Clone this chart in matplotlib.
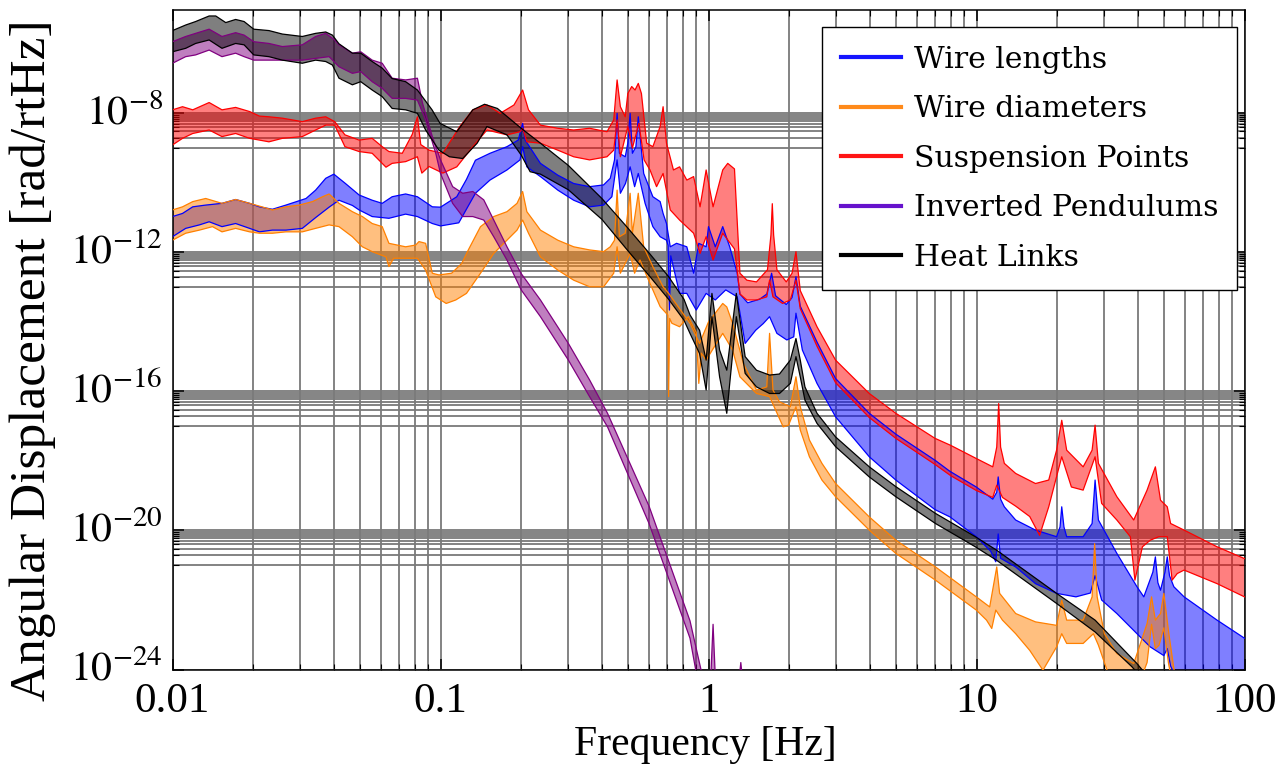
import numpy as np
import matplotlib
matplotlib.use('Agg')
import matplotlib.pyplot as plt
from matplotlib.ticker import FixedLocator, NullFormatter, FixedFormatter
from matplotlib.lines import Line2D
from matplotlib.transforms import ScaledTranslation

plt.rcParams['font.family'] = ['Liberation Serif', 'DejaVu Serif']
plt.rcParams['mathtext.fontset'] = 'stix'

# ---------------- data (frequency in Hz, amplitude as log10 of rad/rtHz) ----------------
# Wire lengths (blue)
wl_up_f = [0.01, 0.0109, 0.0119, 0.0133, 0.0153, 0.0172, 0.0194, 0.0211, 0.0236, 0.0265, 0.0315, 0.0342,
           0.0373, 0.040, 0.0442, 0.0497, 0.0556, 0.0606, 0.066, 0.0741, 0.082, 0.0932, 0.1, 0.115, 0.125,
           0.135, 0.153, 0.177, 0.195, 0.2025, 0.207, 0.236, 0.274, 0.314, 0.36, 0.406, 0.43, 0.446, 0.456,
           0.465, 0.489, 0.50, 0.51, 0.52, 0.536, 0.547, 0.573, 0.62, 0.66, 0.677, 0.697, 0.72, 0.76, 0.83,
           0.88, 0.92, 0.98, 1.0, 1.06, 1.13, 1.2, 1.28, 1.31, 1.40, 1.55, 1.65, 1.72, 1.78, 1.95, 2.05,
           2.12, 2.2, 2.54, 2.98, 3.98, 5.0, 7.0, 7.96, 9.98, 11.5, 11.9, 12.05, 12.3, 12.7, 14.0, 16.6,
           19.9, 20.5, 20.8, 21.2, 21.7, 25.0, 27.0, 27.7, 28.5, 33.4, 39.7, 42.1, 45.5, 46.5, 47.5, 48.6,
           50.5, 51.5, 52.5, 54.5, 59.5, 79.0, 100.0]
wl_up = [-10.97, -10.88, -10.69, -10.64, -10.59, -10.48, -10.59, -10.69, -10.76, -10.64, -10.45, -10.21,
         -9.87, -9.75, -10.02, -10.35, -10.50, -10.59, -10.40, -10.32, -10.40, -10.69, -10.70, -10.40, -9.90,
         -9.35, -9.15, -8.96, -8.77, -8.29, -8.77, -9.44, -9.78, -10.02, -10.11, -10.06, -9.87, -9.34, -8.0,
         -9.15, -9.25, -8.86, -8.0, -9.15, -8.96, -8.10, -9.73, -10.40, -10.54, -10.88, -11.17, -11.84, -11.74, -11.84,
         -12.6, -11.74, -11.84, -11.26, -11.84, -11.26, -11.84, -12.6, -13.2, -13.45, -13.35, -13.2, -12.6, -13.25, -13.5, -13.3,
         -12.7, -13.55, -14.58, -15.63, -16.63, -17.23, -17.98, -18.3, -18.75, -19.1, -18.9, -18.46, -19.1, -19.32, -19.7, -19.99,
         -20.18, -19.9, -19.32, -19.9, -20.18, -20.18, -19.8, -18.55, -19.7, -20.66, -21.62, -21.91, -21.2, -20.76, -21.5, -21.72,
         -21.2, -20.76, -21.3, -21.62, -21.91, -22.58, -23.1]
wl_lo_f = [0.01, 0.0112, 0.0126, 0.0137, 0.0153, 0.0172, 0.0194, 0.0211, 0.0236, 0.0265, 0.0305, 0.0342,
           0.0384, 0.0418, 0.0469, 0.0497, 0.0556, 0.0642, 0.0741, 0.082, 0.0932, 0.1, 0.117, 0.135, 0.153,
           0.177, 0.198, 0.2025, 0.21, 0.236, 0.274, 0.314, 0.36, 0.406, 0.436, 0.456, 0.469, 0.49, 0.51,
           0.53, 0.547, 0.58, 0.62, 0.66, 0.697, 0.707, 0.715, 0.723, 0.78, 0.83, 0.9, 0.98, 1.06, 1.16,
           1.28, 1.37, 1.5, 1.6, 1.69, 1.8, 1.96, 2.08, 2.12, 2.24, 2.54, 2.98, 3.98, 5.0, 7.0, 7.96, 9.98,
           11.3, 11.8, 12.05, 12.3, 14.0, 16.6, 19.9, 23.5, 26.6, 27.7, 29.3, 33.4, 39.7, 44.5, 50.0, 51.5,
           53.0, 56.0, 70.0, 100.0]
wl_lo = [-11.55, -11.31, -11.21, -11.12, -11.26, -11.17, -11.31, -11.41, -11.36, -11.36, -11.31, -11.0,
         -10.7, -10.5, -10.65, -10.78, -10.97, -11.02, -10.90, -10.97, -11.17, -11.24, -11.15, -10.3, -9.92,
         -9.63, -9.34, -8.96, -9.54, -9.82, -10.21, -10.5, -10.69, -10.64, -10.4, -9.34, -10.3, -10.02, -9.54,
         -10.11, -9.73, -10.59, -11.26, -11.55, -11.65, -11.8, -13.66, -12.1, -13.18, -13.18, -13.66, -13.18, -13.37, -13.08,
         -13.28, -14.62, -14.24, -14.05, -13.85, -14.33, -14.52, -14.43, -13.75, -14.81, -15.77, -16.73, -17.88, -18.55, -19.4, -19.61, -20.18,
         -20.6, -20.9, -20.1, -20.8, -21.05, -21.53, -21.81, -21.91, -21.8, -21.3, -22.0, -22.39, -22.97, -23.35, -23.6, -23.4,
         -23.9, -24.3, -24.8, -25.5]

# Wire diameters (orange)
wd_up_f = [0.01, 0.0109, 0.0119, 0.0133, 0.0153, 0.0172, 0.0194, 0.0211, 0.0236, 0.0265, 0.0297, 0.0333,
           0.0363, 0.0384, 0.0418, 0.0469, 0.0511, 0.0556, 0.0606, 0.0642, 0.0741, 0.0808, 0.0831, 0.088,
           0.0932, 0.0987, 0.11, 0.12, 0.127, 0.141, 0.158, 0.177, 0.193, 0.2025, 0.21, 0.236, 0.274, 0.314,
           0.36, 0.406, 0.43, 0.446, 0.456, 0.465, 0.489, 0.51, 0.52, 0.547, 0.573, 0.62, 0.677, 0.71, 0.853,
           0.926, 1.0, 1.13, 1.17, 1.23, 1.35, 1.51, 1.65, 1.69, 1.74, 1.84, 2.02, 2.12, 2.2, 2.38, 2.65,
           2.98, 3.98, 5.0, 7.03, 9.98, 11.2, 11.9, 12.2, 14.0, 16.6, 19.9, 20.8, 21.7, 25.0, 27.0, 27.6,
           28.2, 30.0, 33.4, 38.6, 43.3, 45.0, 46.5, 48.6, 50.0, 52.2, 56.0]
wd_up = [-10.78, -10.69, -10.54, -10.45, -10.59, -10.48, -10.59, -10.67, -10.78, -10.69, -10.64, -10.54,
         -10.40, -10.32, -10.59, -10.83, -10.97, -11.17, -11.26, -11.74, -11.84, -11.79, -11.69, -11.74,
         -12.60, -12.65, -12.6, -12.32, -11.93, -11.26, -10.97, -10.83, -10.59, -10.25, -10.83, -11.36, -11.65, -11.84,
         -11.93, -11.98, -11.84, -11.65, -10.21, -11.55, -11.45, -10.3, -11.45, -10.3, -11.84, -12.41, -12.99, -13.18, -14.04,
         -14.62, -14.0, -13.47, -13.57, -14.04, -15.2, -15.96, -15.87, -14.33, -15.96, -16.3, -16.44, -15.58, -16.44, -17.4, -18.07,
         -18.65, -19.61, -20.28, -21.05, -21.91, -22.2, -21.05, -21.81, -22.39, -22.63, -22.73, -22.01, -22.58, -22.58, -21.91, -20.38,
         -21.91, -22.97, -23.54, -23.83, -22.68, -21.91, -22.58, -22.39, -21.81, -22.97, -24.6]
wd_lo_f = [0.01, 0.0112, 0.0126, 0.0141, 0.0153, 0.0172, 0.0194, 0.0211, 0.0236, 0.0265, 0.0305, 0.0342,
           0.0384, 0.0418, 0.0469, 0.0511, 0.0556, 0.0626, 0.0642, 0.0669, 0.0741, 0.082, 0.088, 0.096, 0.105,
           0.114, 0.125, 0.141, 0.158, 0.177, 0.193, 0.2025, 0.213, 0.236, 0.274, 0.314, 0.36, 0.406, 0.443,
           0.456, 0.469, 0.51, 0.53, 0.555, 0.59, 0.66, 0.697, 0.705, 0.71, 0.716, 0.73, 0.78, 0.84, 0.9,
           0.92, 0.94, 0.98, 1.07, 1.13, 1.23, 1.31, 1.51, 1.69, 1.90, 1.99, 2.12, 2.2, 2.38, 2.65, 2.98,
           3.98, 5.0, 7.03, 9.98, 10.9, 11.4, 11.8, 12.5, 14.0, 15.8, 17.7, 19.9, 20.8, 21.7, 25.0, 27.3,
           28.5, 30.7, 33.0, 40.0, 43.3, 45.0, 46.5, 48.0, 50.0, 52.0, 54.0]
wd_lo = [-11.65, -11.45, -11.36, -11.26, -11.41, -11.31, -11.41, -11.45, -11.45, -11.41, -11.41, -11.31,
         -11.21, -11.26, -11.55, -11.84, -11.98, -12.13, -12.41, -12.17, -12.17, -12.17, -12.51, -13.28, -13.47,
         -13.37, -13.18, -12.6, -12.03, -11.65, -11.36, -11.07, -11.45, -12.13, -12.51, -12.8, -12.99, -12.99, -12.6,
         -11.84, -12.6, -12.03, -12.6, -12.22, -12.7, -13.56, -13.76, -13.8, -16.15, -13.9, -14.04, -14.14, -13.85, -14.3,
         -15.77, -14.9, -15.1, -14.62, -14.33, -14.81, -15.58, -16.06, -16.15, -17.02, -16.97, -16.44, -17.11, -17.88, -18.55, -19.03,
         -19.99, -20.66, -21.43, -22.29, -22.58, -22.82, -22.29, -22.58, -22.97, -23.45, -24.02, -23.35, -22.97, -23.25, -23.25, -22.97,
         -23.3, -24.02, -24.5, -24.5, -23.8, -22.7, -23.4, -23.3, -22.8, -23.8, -24.5]

# Suspension points (red)
sp_up_f = [0.01, 0.0109, 0.0119, 0.0137, 0.0153, 0.0172, 0.0194, 0.0211, 0.0229, 0.0257, 0.0305, 0.0342,
           0.0373, 0.0403, 0.044, 0.0497, 0.0556, 0.0606, 0.0642, 0.072, 0.0785, 0.082, 0.0844, 0.0906, 0.102,
           0.118, 0.132, 0.149, 0.167, 0.188, 0.2025, 0.213, 0.236, 0.274, 0.314, 0.36, 0.418, 0.443, 0.456,
           0.469, 0.489, 0.50, 0.517, 0.532, 0.547, 0.562, 0.588, 0.62, 0.66, 0.677, 0.697, 0.74, 0.78, 0.83,
           0.88, 0.93, 0.98, 1.04, 1.13, 1.18, 1.25, 1.31, 1.39, 1.51, 1.66, 1.71, 1.73, 1.75, 1.80, 1.95,
           2.05, 2.12, 2.20, 2.54, 2.98, 3.98, 5.0, 7.0, 8.0, 9.98, 11.5, 11.9, 12.1, 12.3, 12.7, 14.0, 16.6,
           18.6, 19.9, 20.8, 21.7, 25.0, 27.0, 27.7, 28.5, 33.4, 38.6, 43.3, 46.5, 48.6, 51.5, 53.0, 59.5,
           79.0, 100.0]
sp_up = [-7.90, -7.81, -7.90, -7.69, -7.90, -7.83, -7.95, -8.08, -8.10, -8.14, -8.24, -8.14,
         -8.10, -8.24, -8.62, -8.77, -8.72, -8.96, -9.10, -9.15, -8.6, -8.10, -8.9, -9.06, -9.15,
         -8.38, -7.90, -7.76, -8.0, -7.76, -7.33, -7.90, -8.34, -8.43, -8.48, -8.43, -8.53, -8.19, -7.04,
         -7.81, -8.10, -7.43, -7.23, -7.33, -7.14, -7.43, -8.86, -8.96, -8.38, -7.81, -8.86, -9.63, -9.54, -9.92,
         -9.82, -10.69, -9.63, -10.69, -9.63, -9.44, -9.6, -12.6, -12.8, -12.85, -12.5, -11.5, -10.6, -11.5, -12.5, -12.85,
         -12.6, -11.98, -13.1, -14.14, -15.1, -16.06, -16.63, -17.35, -17.55, -17.93, -18.17, -17.6, -16.35, -17.6, -18.07, -18.36, -18.65,
         -18.55, -17.69, -16.83, -17.69, -18.17, -17.69, -16.97, -18.07, -19.03, -19.70, -18.84, -18.17, -19.13, -19.32, -19.8, -19.99,
         -20.47, -20.81]
sp_lo_f = [0.01, 0.0109, 0.0119, 0.0137, 0.0153, 0.0172, 0.0194, 0.0211, 0.0229, 0.0257, 0.0305, 0.0342,
           0.0373, 0.0403, 0.044, 0.0497, 0.0556, 0.0626, 0.066, 0.0741, 0.082, 0.0852, 0.0906, 0.102, 0.115,
           0.132, 0.149, 0.177, 0.198, 0.2025, 0.21, 0.236, 0.274, 0.314, 0.36, 0.418, 0.443, 0.456, 0.469,
           0.50, 0.52, 0.55, 0.575, 0.605, 0.64, 0.677, 0.72, 0.78, 0.88, 0.93, 0.98, 1.04, 1.13, 1.25, 1.31,
           1.39, 1.51, 1.65, 1.69, 1.74, 1.89, 2.02, 2.12, 2.2, 2.54, 2.98, 3.98, 5.0, 7.0, 8.0, 9.98, 11.5,
           11.9, 12.5, 14.0, 15.8, 17.2, 18.6, 20.8, 22.6, 25.0, 27.7, 29.3, 33.4, 37.5, 39.0, 41.6, 44.5,
           47.9, 51.5, 53.7, 56.1, 59.5, 79.0, 100.0]
sp_lo = [-8.91, -8.72, -8.58, -8.48, -8.67, -8.58, -8.72, -8.77, -8.82, -8.72, -8.67, -8.48,
         -8.34, -8.34, -8.96, -9.10, -9.15, -9.55, -9.44, -9.39, -9.25, -9.72, -9.53, -9.72, -9.54,
         -8.96, -8.48, -8.62, -8.53, -8.43, -8.82, -8.86, -9.06, -9.25, -9.34, -9.25, -9.06, -8.19, -9.25,
         -8.38, -9.0, -8.29, -9.34, -9.63, -10.11, -9.73, -10.78, -11.07, -11.45, -12.03, -11.55, -12.22, -11.45, -11.9, -13.2,
         -13.37, -13.37, -13.28, -12.8, -13.28, -13.47, -13.37, -12.8, -13.62, -14.7, -15.75, -16.75, -17.35, -18.1, -18.42, -18.85, -19.05,
         -18.7, -19.05, -19.3, -19.6, -20.14, -19.32, -17.88, -18.75, -18.84, -17.88, -19.22, -19.70, -20.18, -21.43, -20.47, -20.28,
         -20.18, -20.18, -21.43, -21.24, -21.14, -21.53, -21.91]

# Inverted pendulums (purple)
ip_up_f = [0.01, 0.0112, 0.0122, 0.0137, 0.0153, 0.0172, 0.0185, 0.0201, 0.0229, 0.0257, 0.0305, 0.0342,
           0.0373, 0.0403, 0.0418, 0.0469, 0.0504, 0.0556, 0.0606, 0.066, 0.0741, 0.082, 0.0857, 0.0932, 0.1,
           0.111, 0.121, 0.132, 0.145, 0.158, 0.177, 0.2, 0.236, 0.30, 0.36, 0.42, 0.6, 0.853, 0.95, 1.02,
           1.04, 1.06, 1.3, 1.32, 1.34]
ip_up = [-5.94, -5.79, -5.70, -5.58, -5.79, -5.68, -5.75, -5.94, -5.99, -6.08, -6.03, -5.79,
         -5.70, -5.89, -6.03, -6.27, -6.23, -6.47, -6.56, -6.99, -7.04, -6.99, -7.71, -8.67, -9.34,
         -10.11, -10.30, -10.25, -10.49, -11.07, -11.84, -12.61, -13.37, -14.62, -15.67, -16.63, -19.3, -22.6, -24.2, -24.2,
         -22.7, -24.2, -24.3, -23.8, -24.3]
ip_lo_f = [0.01, 0.0112, 0.0122, 0.0137, 0.0153, 0.0172, 0.0185, 0.0201, 0.0229, 0.0257, 0.0305, 0.0342,
           0.0384, 0.0418, 0.0469, 0.0504, 0.0556, 0.0606, 0.066, 0.0741, 0.082, 0.088, 0.096, 0.1, 0.111,
           0.121, 0.132, 0.145, 0.158, 0.177, 0.2, 0.236, 0.30, 0.36, 0.42, 0.6, 0.853, 0.92]
ip_lo = [-6.56, -6.37, -6.32, -6.18, -6.37, -6.27, -6.37, -6.47, -6.47, -6.47, -6.47, -6.42,
         -6.37, -6.66, -6.85, -6.80, -7.09, -7.28, -7.57, -7.57, -7.62, -8.19, -9.15, -9.73, -10.59,
         -10.97, -10.97, -11.07, -11.55, -12.22, -13.08, -13.85, -15.10, -16.15, -17.02, -19.8, -23.1, -24.5]

# Heat links (black)
hl_up_f = [0.01, 0.0112, 0.0122, 0.0137, 0.0145, 0.0158, 0.0172, 0.0185, 0.0201, 0.0229, 0.0257, 0.0305,
           0.0342, 0.0373, 0.0395, 0.0418, 0.0469, 0.0504, 0.0556, 0.0606, 0.066, 0.0741, 0.082, 0.093, 0.0996,
           0.115, 0.132, 0.146, 0.163, 0.2, 0.236, 0.30, 0.40, 0.50, 0.605, 0.71, 0.81, 0.853, 0.926, 0.98,
           1.03, 1.10, 1.17, 1.27, 1.37, 1.51, 1.69, 1.84, 2.02, 2.12, 2.20, 2.29, 2.54, 2.98, 3.98, 5.0,
           7.03, 9.9, 11.9, 19.9, 27.7, 39.7, 48.0]
hl_up = [-5.62, -5.46, -5.36, -5.20, -5.20, -5.39, -5.30, -5.36, -5.58, -5.62, -5.72, -5.79,
         -5.70, -5.66, -5.75, -6.00, -6.27, -6.27, -6.51, -6.70, -7.00, -7.09, -7.33, -7.9, -8.29,
         -8.53, -7.90, -7.74, -7.86, -8.43, -8.86, -9.5, -10.45, -11.3, -12.05, -12.7, -13.35, -13.80, -14.24, -15.10,
         -13.18, -14.81, -15.39, -13.18, -15.00, -15.39, -15.53, -15.50, -15.10, -14.48, -15.10, -15.87, -16.63, -17.31, -18.17, -18.74,
         -19.51, -20.18, -20.57, -21.81, -22.58, -23.83, -24.6]
hl_lo_f = [0.01, 0.0112, 0.0122, 0.0137, 0.0153, 0.0172, 0.0185, 0.0201, 0.0229, 0.0257, 0.0305, 0.0342,
           0.0373, 0.0395, 0.0418, 0.0469, 0.0504, 0.0556, 0.0606, 0.066, 0.0741, 0.082, 0.088, 0.0987, 0.108,
           0.121, 0.137, 0.149, 0.177, 0.2, 0.216, 0.236, 0.30, 0.40, 0.50, 0.605, 0.71, 0.81, 0.853, 0.926,
           0.98, 1.03, 1.10, 1.17, 1.27, 1.37, 1.51, 1.69, 1.84, 2.02, 2.12, 2.20, 2.29, 2.54, 2.98, 3.98,
           5.0, 7.03, 9.9, 11.9, 19.9, 27.7, 38.0, 42.0]
hl_lo = [-6.23, -6.13, -5.99, -5.89, -6.13, -5.99, -6.03, -6.32, -6.37, -6.47, -6.56, -6.47,
         -6.51, -6.61, -6.99, -7.18, -7.09, -7.33, -7.52, -7.86, -7.90, -8.0, -8.48, -9.06, -9.25,
         -9.30, -8.86, -8.38, -8.62, -9.20, -9.68, -9.75, -10.2, -11.05, -11.95, -12.7, -13.35, -13.95, -14.33, -14.91,
         -15.96, -13.85, -15.58, -16.63, -13.85, -15.48, -15.87, -16.06, -16.06, -15.77, -15.00, -15.58, -16.25, -16.92, -17.59, -18.46,
         -19.03, -19.80, -20.47, -20.86, -22.1, -22.92, -23.92, -24.3]

labels = ['Wire lengths', 'Wire diameters', 'Suspension Points', 'Inverted Pendulums', 'Heat Links']
band_colors = ['#0000FF', '#FF8000', '#FF0000', '#800080', '#000000']
legend_colors = ['#1515FF', '#FF8A1A', '#FF1515', '#6612CC', '#000000']

x_ticks = [0.01, 0.1, 1, 10, 100]
x_ticklabels = ['0.01', '0.1', '1', '10', '100']
y_ticks = [1e-24, 1e-20, 1e-16, 1e-12, 1e-8]
y_ticklabels = [r'$10^{-24}$', r'$10^{-20}$', r'$10^{-16}$', r'$10^{-12}$', r'$10^{-8}$']

# ---------------- figure ----------------
W, H = 1276, 765
fig = plt.figure(figsize=(W / 100, H / 100), dpi=100)
ax = fig.add_axes([172.5 / W, (H - 669.5) / H, 1072 / W, 659.5 / H])
ax.set_xscale('log')
ax.set_yscale('log')

bands = [
    (wl_up_f, wl_up, wl_lo_f, wl_lo),
    (wd_up_f, wd_up, wd_lo_f, wd_lo),
    (sp_up_f, sp_up, sp_lo_f, sp_lo),
    (ip_up_f, ip_up, ip_lo_f, ip_lo),
    (hl_up_f, hl_up, hl_lo_f, hl_lo),
]
for (uf, u, lf, l), col in zip(bands, band_colors):
    uf = np.asarray(uf, float)
    lf = np.asarray(lf, float)
    u = 10.0 ** np.asarray(u, float)
    l = 10.0 ** np.asarray(l, float)
    ax.fill(np.concatenate([uf, lf[::-1]]), np.concatenate([u, l[::-1]]),
            facecolor=col, alpha=0.5, lw=0, zorder=2)
    ax.plot(uf, u, color=col, lw=0.9, zorder=3)
    ax.plot(lf, l, color=col, lw=0.9, zorder=3)

ax.set_xlim(0.01, 100)
ax.set_ylim(1e-24, 10 ** -5.028)

# ticks and grid
ax.xaxis.set_major_locator(FixedLocator(x_ticks))
ax.xaxis.set_major_formatter(FixedFormatter(x_ticklabels))
x_minor = [k * 10.0 ** e for e in range(-2, 2) for k in range(2, 10)]
ax.xaxis.set_minor_locator(FixedLocator(x_minor))
ax.xaxis.set_minor_formatter(NullFormatter())

ax.yaxis.set_major_locator(FixedLocator(y_ticks))
ax.yaxis.set_major_formatter(FixedFormatter(y_ticklabels))
y_minor = [k * t / 10.0 for t in y_ticks for k in range(1, 10)]
ax.yaxis.set_minor_locator(FixedLocator(y_minor))
ax.yaxis.set_minor_formatter(NullFormatter())

ax.set_axisbelow(True)
ax.grid(True, which='both', color='#7a7a7a', lw=1.3)
ax.tick_params(which='both', direction='in', top=True, right=True)
ax.tick_params(which='major', length=8, width=1.1, pad=8)
ax.tick_params(which='minor', length=4, width=0.8)
ax.tick_params(axis='x', which='major', labelsize=31, pad=9)
ax.tick_params(axis='y', which='major', labelsize=30, pad=7)
for lab in ax.get_yticklabels():
    lab.set_transform(lab.get_transform() + ScaledTranslation(0, 3 / 72, fig.dpi_scale_trans))
for sp in ax.spines.values():
    sp.set_linewidth(1.1)

ax.set_xlabel('Frequency [Hz]', fontsize=30, va='center')
ax.xaxis.set_label_coords((705 - 172.5) / 1072, -(745 - 669.5) / 659.5)
ax.set_ylabel('Angular Displacement [rad/rtHz]', fontsize=37, va='center')
ax.yaxis.set_label_coords((33 - 172.5) / 1072, (669.5 - 360) / 659.5)

handles = [Line2D([], [], color=c, lw=3) for c in legend_colors]
leg = ax.legend(handles, labels, loc='upper right', bbox_to_anchor=(0.993, 0.974),
                borderaxespad=0, fancybox=False, framealpha=1, edgecolor='black',
                prop={'family': 'DejaVu Serif', 'size': 21.5}, handlelength=2.0,
                handletextpad=0.45, borderpad=0.62, labelspacing=0.72)
leg.get_frame().set_linewidth(1.0)
leg.set_zorder(10)

fig.savefig('out.png', dpi=100)
